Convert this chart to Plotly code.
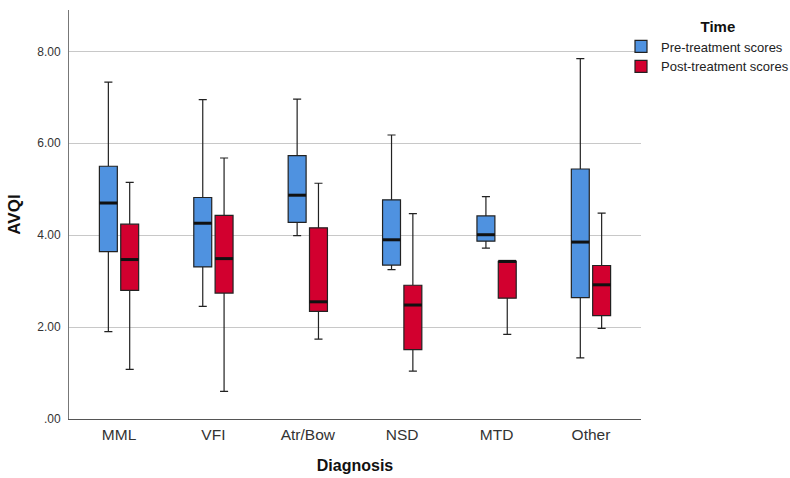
import plotly.graph_objects as go

categories = ["MML", "VFI", "Atr/Bow", "NSD", "MTD", "Other"]

pre_lower = [1.90, 2.45, 3.99, 3.25, 3.72, 1.33]
pre_q1 = [3.64, 3.31, 4.28, 3.35, 3.87, 2.64]
pre_median = [4.70, 4.26, 4.87, 3.90, 4.01, 3.85]
pre_q3 = [5.50, 4.82, 5.73, 4.77, 4.42, 5.44]
pre_upper = [7.33, 6.95, 6.96, 6.18, 4.84, 7.84]

post_lower = [1.08, 0.60, 1.74, 1.04, 1.84, 1.97]
post_q1 = [2.80, 2.74, 2.34, 1.51, 2.63, 2.25]
post_median = [3.47, 3.49, 2.55, 2.48, 3.43, 2.92]
post_q3 = [4.24, 4.43, 4.16, 2.91, 3.43, 3.34]
post_upper = [5.15, 5.68, 5.13, 4.47, 3.43, 4.48]

y_tick_vals = [0, 2, 4, 6, 8]
y_tick_text = [".00", "2.00", "4.00", "6.00", "8.00"]

PRE_COLOR = "#4f92e0"
POST_COLOR = "#d2002f"
OFFSET = 0.113
BOX_W = 0.19

fig = go.Figure()

def add_series(name, color, sign, lo, q1, med, q3, up):
    xs = [i + sign * OFFSET for i in range(len(categories))]
    fig.add_trace(go.Box(
        name=name, x=xs, lowerfence=lo, q1=q1, median=med, q3=q3, upperfence=up,
        width=BOX_W, whiskerwidth=0.45, fillcolor=color,
        line=dict(color="#222222", width=1.2), marker=dict(color=color),
        boxpoints=False, hoverinfo="skip",
    ))
    mx, my = [], []
    for x, m in zip(xs, med):
        mx += [x - BOX_W / 2, x + BOX_W / 2, None]
        my += [m, m, None]
    fig.add_trace(go.Scatter(x=mx, y=my, mode="lines", line=dict(color="#111111", width=3),
                             showlegend=False, hoverinfo="skip"))

add_series("Pre-treatment scores", PRE_COLOR, -1, pre_lower, pre_q1, pre_median, pre_q3, pre_upper)
add_series("Post-treatment scores", POST_COLOR, 1, post_lower, post_q1, post_median, post_q3, post_upper)

fig.update_layout(
    width=790, height=478,
    margin=dict(l=69, r=149, t=10, b=58.5, autoexpand=False),
    plot_bgcolor="white", paper_bgcolor="white",
    boxmode="overlay",
    font=dict(family="Liberation Sans, Arial, sans-serif", color="#222222"),
    legend=dict(
        xref="container", yref="container",
        x=621 / 790, y=1 - 12 / 478, xanchor="left", yanchor="top",
        bgcolor="rgba(0,0,0,0)", font=dict(size=13, color="#222222"),
        title=dict(text="&nbsp;&nbsp;&nbsp;&nbsp;&nbsp;<b>Time</b>", side="top center",
                   font=dict(size=15, color="#111111")),
        tracegroupgap=0, itemwidth=30,
    ),
    xaxis=dict(
        range=[-0.53, 5.53], tickvals=list(range(len(categories))), ticktext=categories,
        showgrid=False, showline=True, linecolor="#555555", linewidth=1,
        ticks="", tickfont=dict(size=15.5, color="#333333"), zeroline=False,
        ticklabelstandoff=1, automargin=False,
        title=dict(text="<b>Diagnosis</b>", font=dict(size=16, color="#111111"), standoff=18),
    ),
    yaxis=dict(
        range=[0, 8.9], tickvals=y_tick_vals, ticktext=y_tick_text,
        showgrid=True, gridcolor="#c8c8c8", gridwidth=1,
        showline=True, linecolor="#777777", linewidth=1,
        ticks="", ticklabelstandoff=5, automargin=False,
        tickfont=dict(size=12, color="#333333"), zeroline=False,
        title=dict(text="<b>AVQI</b>", font=dict(size=17, color="#111111"), standoff=12),
    ),
)

fig.write_html("out.html")
